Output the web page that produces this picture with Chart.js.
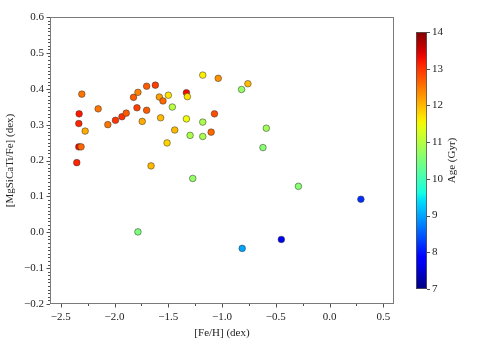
<!DOCTYPE html>
<html>
<head>
<meta charset="utf-8">
<script src="https://cdn.jsdelivr.net/npm/chart.js@4"></script>
<style>
  html, body { margin: 0; padding: 0; background: #fff; }
  #wrap { width: 491px; height: 354px; }
</style>
</head>
<body>
<div id="wrap"><canvas id="grafica" width="491" height="354"></canvas></div>
<script>
var feh = [-2.351, -2.332, -2.311, -2.332, -2.329, -2.273, -2.304, -2.152, -2.062, -1.991,
           -1.931, -1.891, -1.823, -1.782, -1.791, -1.742, -1.701, -1.701, -1.620, -1.583,
           -1.549, -1.499, -1.571, -1.462, -1.440, -1.511, -1.660, -1.331, -1.322, -1.331,
           -1.297, -1.179, -1.179, -1.179, -1.101, -1.070, -1.035, -0.818, -0.759, -0.588,
           -0.619, -1.272, -1.782, -0.289, 0.292, -0.448, -0.812];
var mgsicati = [0.194, 0.238, 0.238, 0.303, 0.330, 0.282, 0.385, 0.344, 0.300, 0.312,
                0.322, 0.332, 0.376, 0.390, 0.347, 0.309, 0.407, 0.340, 0.410, 0.377,
                0.366, 0.382, 0.319, 0.349, 0.285, 0.249, 0.185, 0.389, 0.378, 0.316,
                0.270, 0.438, 0.307, 0.267, 0.279, 0.330, 0.429, 0.398, 0.414, 0.290,
                0.236, 0.150, 0.001, 0.128, 0.092, -0.020, -0.045];
var age = [13.1, 13.3, 12.6, 13.1, 13.2, 12.1, 12.5, 12.5, 12.5, 13.0,
           13.0, 12.7, 12.7, 12.4, 12.9, 12.1, 12.7, 12.7, 12.9, 12.2,
           12.6, 11.7, 12.0, 11.0, 12.0, 11.8, 12.0, 13.3, 11.7, 11.5,
           10.9, 11.6, 10.9, 10.9, 12.6, 12.8, 12.3, 10.7, 12.0, 10.8,
           10.6, 10.7, 10.5, 10.6, 8.2, 7.7, 9.0];
var xTicks = [-2.5, -2.0, -1.5, -1.0, -0.5, 0.0, 0.5];
var yTicks = [-0.2, -0.1, 0.0, 0.1, 0.2, 0.3, 0.4, 0.5, 0.6];
var ageTicks = [7, 8, 9, 10, 11, 12, 13, 14];
var ageMin = 7, ageMax = 14;

var FONT = '"Liberation Serif", "DejaVu Serif", serif';

// matplotlib jet
function interp(pts, t) {
  for (var i = 1; i < pts.length; i++) {
    if (t <= pts[i][0]) {
      var a = pts[i - 1], b = pts[i];
      return a[1] + (b[1] - a[1]) * (t - a[0]) / (b[0] - a[0]);
    }
  }
  return pts[pts.length - 1][1];
}
function jet(t) {
  t = Math.max(0, Math.min(1, t));
  var r = interp([[0, 0], [0.35, 0], [0.66, 1], [0.89, 1], [1, 0.5]], t);
  var g = interp([[0, 0], [0.125, 0], [0.375, 1], [0.64, 1], [0.91, 0], [1, 0]], t);
  var b = interp([[0, 0.5], [0.11, 1], [0.34, 1], [0.65, 0], [1, 0]], t);
  return 'rgb(' + Math.round(r * 255) + ',' + Math.round(g * 255) + ',' + Math.round(b * 255) + ')';
}
function ageColor(a) { return jet((a - ageMin) / (ageMax - ageMin)); }

function fmt(v, d) {
  var s = Math.abs(v).toFixed(d);
  return (v < -1e-9 ? '\u2212' : '') + s;
}

var points = feh.map(function (x, i) { return { x: x, y: mgsicati[i] }; });

// frame, ticks and colorbar
var extras = {
  id: 'extras',
  afterDraw: function (chart) {
    var ctx = chart.ctx, a = chart.chartArea;
    var xs = chart.scales.x, ys = chart.scales.y;
    ctx.save();
    ctx.strokeStyle = '#7a7a7a';
    ctx.lineWidth = 1;
    ctx.strokeRect(a.left + 0.5, a.top + 0.5, a.right - a.left - 1, a.bottom - a.top - 1);

    ctx.strokeStyle = '#222';
    ctx.lineWidth = 0.8;
    ctx.beginPath();
    var v, p, k;
    for (k = -20; k <= 60; k++) {
      v = k / 100;
      p = Math.round(ys.getPixelForValue(v)) + 0.5;
      var len = (k % 10 === 0) ? 3.5 : 2;
      ctx.moveTo(a.left, p); ctx.lineTo(a.left - len, p);
    }
    for (k = -10; k <= 2; k++) {
      v = k / 4;
      p = Math.round(xs.getPixelForValue(v)) + 0.5;
      var l2 = (k % 2 === 0) ? 3.5 : 2;
      ctx.moveTo(p, a.bottom); ctx.lineTo(p, a.bottom + l2);
    }
    ctx.stroke();

    // colorbar
    var cbL = 416, cbR = 427, cbT = 32, cbB = 289;
    var grad = ctx.createLinearGradient(0, cbB, 0, cbT);
    for (k = 0; k <= 40; k++) grad.addColorStop(k / 40, jet(k / 40));
    ctx.fillStyle = grad;
    ctx.fillRect(cbL, cbT, cbR - cbL, cbB - cbT);
    ctx.strokeStyle = '#555';
    ctx.lineWidth = 0.8;
    ctx.strokeRect(cbL + 0.5, cbT + 0.5, cbR - cbL - 1, cbB - cbT - 1);
    ctx.fillStyle = '#222';
    ctx.font = '11px ' + FONT;
    ctx.textBaseline = 'middle';
    ctx.textAlign = 'left';
    ctx.strokeStyle = '#222';
    ageTicks.forEach(function (t) {
      var y = cbB - (t - ageMin) / (ageMax - ageMin) * (cbB - cbT);
      ctx.beginPath();
      ctx.moveTo(cbR, Math.round(y) + 0.5); ctx.lineTo(cbR + 3, Math.round(y) + 0.5);
      ctx.stroke();
      ctx.fillText(String(t), cbR + 5, y);
    });
    ctx.translate(452, (cbT + cbB) / 2);
    ctx.rotate(-Math.PI / 2);
    ctx.textAlign = 'center';
    ctx.fillText('Age (Gyr)', 0, 0);
    ctx.restore();
  }
};

new Chart(document.getElementById('grafica').getContext('2d'), {
  type: 'scatter',
  data: {
    datasets: [{
      label: 'stars',
      data: points,
      backgroundColor: age.map(ageColor),
      borderColor: 'rgba(50,50,50,0.85)',
      borderWidth: 0.6,
      pointRadius: 3.3,
      pointHoverRadius: 3.3
    }]
  },
  options: {
    responsive: false,
    animation: false,
    events: [],
    layout: { padding: { left: 0, right: 97, top: 17, bottom: 0 } },
    plugins: { legend: { display: false }, tooltip: { enabled: false } },
    scales: {
      x: {
        type: 'linear', min: -2.6, max: 0.6,
        afterFit: function (s) { s.height = 50; },
        afterBuildTicks: function (s) { s.ticks = xTicks.map(function (v) { return { value: v }; }); },
        grid: { display: false, drawTicks: false },
        border: { display: false },
        ticks: {
          padding: 7, color: '#222', font: { family: FONT, size: 11 },
          callback: function (v) { return fmt(v, 1); }
        },
        title: { display: true, text: '[Fe/H] (dex)', color: '#222', font: { family: FONT, size: 11 }, padding: { top: 2, bottom: 14 } }
      },
      y: {
        type: 'linear', min: -0.2, max: 0.6,
        afterFit: function (s) { s.width = 50; },
        afterBuildTicks: function (s) { s.ticks = yTicks.map(function (v) { return { value: v }; }); },
        grid: { display: false, drawTicks: false },
        border: { display: false },
        ticks: {
          padding: 6, color: '#222', font: { family: FONT, size: 11 },
          callback: function (v) { return fmt(v, 1); }
        },
        title: { display: true, text: '[MgSiCaTi/Fe] (dex)', color: '#222', font: { family: FONT, size: 11 }, padding: { top: 4, bottom: 0 } }
      }
    }
  },
  plugins: [extras]
});
</script>
</body>
</html>
